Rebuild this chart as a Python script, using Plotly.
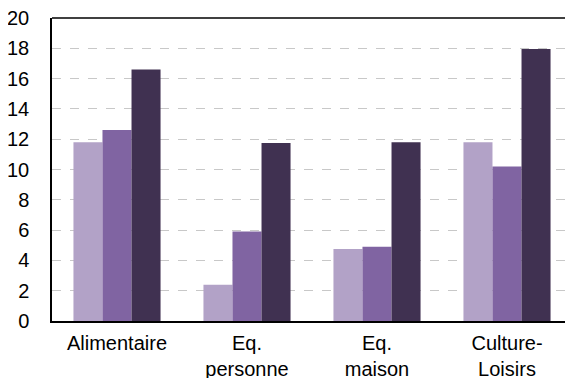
import plotly.graph_objects as go

categories = ["Alimentaire", "Eq.<br>personne", "Eq.<br>maison", "Culture-<br>Loisirs"]
series_names = ["Série 1", "Série 2", "Série 3"]
values_1 = [11.8, 2.4, 4.75, 11.8]
values_2 = [12.6, 5.9, 4.9, 10.2]
values_3 = [16.6, 11.75, 11.8, 17.95]
colors = ["#b2a2c7", "#8064a2", "#403151"]
y_ticks = list(range(0, 21, 2))

fig = go.Figure()
for name, vals, col in zip(series_names, [values_1, values_2, values_3], colors):
    fig.add_trace(go.Bar(x=categories, y=vals, name=name, marker_color=col,
                         marker_line_width=0))

font = dict(family="Liberation Sans, Arial, sans-serif", size=20, color="#000000")
# page body has an 8px margin, so the figure is sized/margined to compensate
fig.update_layout(
    width=565, height=370,
    margin=dict(l=44, r=1, t=10, b=57),
    paper_bgcolor="white", plot_bgcolor="white",
    barmode="group", bargap=0.33, bargroupgap=0,
    showlegend=False,
    font=font,
)
fig.update_yaxes(range=[0, 20], tickvals=y_ticks, showgrid=True, gridcolor="#c8c8c8",
                 griddash="dash", gridwidth=1, showline=True, linecolor="black",
                 linewidth=1.5, ticks="", ticklabelstandoff=17, zeroline=False,
                 tickfont=font, automargin=False, ticklabeloverflow="allow")
fig.update_xaxes(showline=True, linecolor="black", linewidth=1.5, ticks="",
                 tickfont=font, ticklabelstandoff=3, automargin=False,
                 ticklabeloverflow="allow")
fig.add_shape(type="line", xref="paper", yref="paper", x0=0, x1=1, y0=1, y1=1,
              line=dict(color="black", width=1.5))
fig.write_html("out.html")
